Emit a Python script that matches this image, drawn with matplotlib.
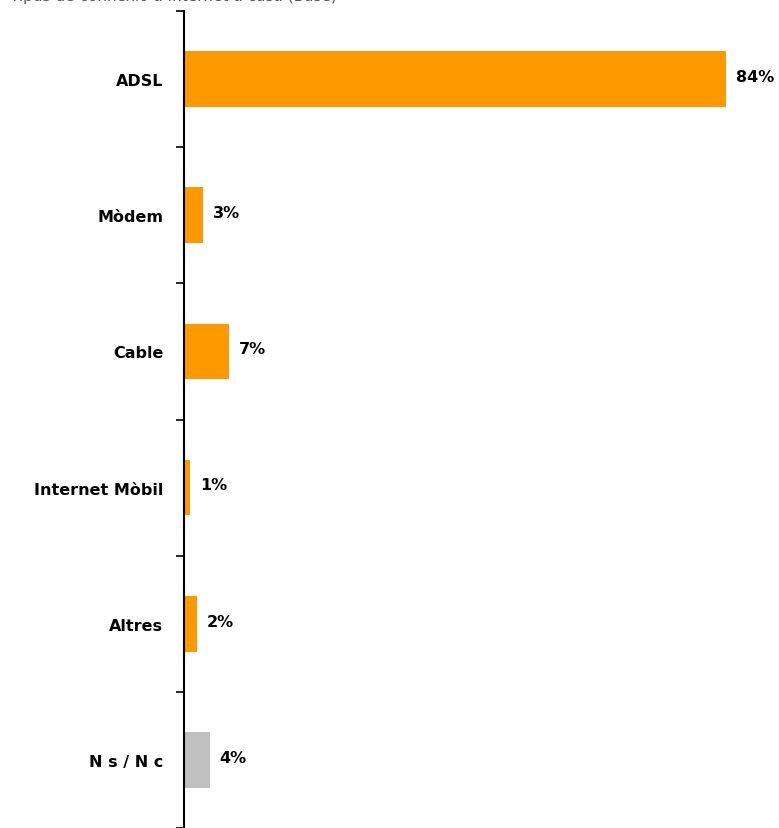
import matplotlib.pyplot as plt

categories = ['ADSL', 'Mòdem', 'Cable', 'Internet Mòbil', 'Altres', 'Ns/Nc']
tick_labels = ['ADSL', 'Mòdem', 'Cable', 'Internet Mòbil', 'Altres', 'N s / N c']
values = [84, 3, 7, 1, 2, 4]
colors = ['#FF9900'] * 5 + ['#C0C0C0']

plt.rcParams['font.family'] = ['DejaVu Sans']

fig = plt.figure(figsize=(7.79, 8.29), dpi=100)
ax = fig.add_axes([184 / 779, 0, 581 / 779, 817 / 829])

pos = list(range(len(categories)))
ax.barh(pos, values, height=0.41, color=colors)
ax.set_ylim(len(categories) - 0.5, -0.5)
ax.set_xlim(0, 90)

for p, v in zip(pos, values):
    ax.text(v + 1.5, p - 0.02, f'{v}%', va='center', ha='left', fontsize=11.5, fontweight='bold')

ax.set_yticks(pos)
ax.set_yticklabels(tick_labels, fontsize=11.5, fontweight='bold')
ax.tick_params(axis='y', which='major', length=0, pad=15)
ax.set_yticks([p + 0.5 for p in range(-1, len(categories))], minor=True)
ax.tick_params(axis='y', which='minor', length=6, width=1.2, direction='out')
ax.set_xticks([])
for s in ['top', 'right', 'bottom']:
    ax.spines[s].set_visible(False)
ax.spines['left'].set_linewidth(1.5)

# title sits mostly above the picture's top edge, as in the reference
fig.text(10 / 779, 1 - 1 / 829, 'Tipus de connexió a Internet a casa (Base)',
         fontsize=11, color='#555555', va='baseline')

fig.savefig('out.png', dpi=100)
